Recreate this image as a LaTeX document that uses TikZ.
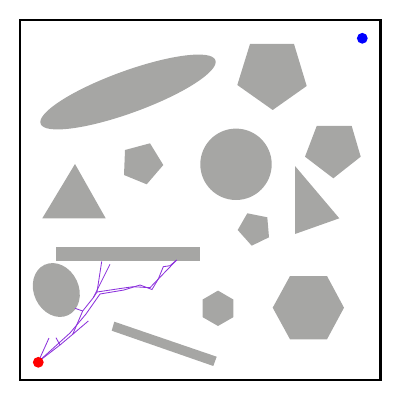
\documentclass[tikz,border=0pt]{standalone}
\usetikzlibrary{calc}
\definecolor{obstgray}{RGB}{166,166,164}
\definecolor{treepurple}{RGB}{140,50,220}
\definecolor{goalblue}{RGB}{0,0,255}
\definecolor{startred}{RGB}{255,0,0}

\begin{document}
\begin{tikzpicture}[x=0.025cm, y=-0.025cm,
  obstacle/.style={fill=obstgray},
  wall/.style={draw=black, line width=1.9pt},
  edge/.style={draw=treepurple, line width=0.6pt},
  marker/.style={circle, inner sep=0pt, minimum size=0.27cm}
]
\useasboundingbox (0,0) rectangle (400,400);
% workspace border
\draw[wall] (20,20) rectangle (380.5,380);

% obstacles
\fill[obstacle, rotate around={20:(128,92)}] (128,92) ellipse (93 and 21);
\fill[obstacle] (250,44) -- (294,44) -- (306.7,86) -- (272.7,110) -- (237.3,85) -- cycle;
\fill[obstacle] (236,164.3) circle (35.7);
\fill[obstacle] (316.7,126) -- (351.7,126) -- (360.7,156.7) -- (333.3,178.3) -- (305,156.7) -- cycle;
\fill[obstacle] (125,150) -- (150,143.3) -- (163.3,165) -- (146.7,184.3) -- (124,175) -- cycle;
\fill[obstacle] (75,164) -- (105.7,218.3) -- (42.3,218.3) -- cycle;
\fill[obstacle] (295,166) -- (339.3,218.3) -- (295,234) -- cycle;
\fill[obstacle] (247.3,213.3) -- (267.3,217.3) -- (269,237.3) -- (251.7,245.7) -- (237.7,230) -- cycle;
\fill[obstacle] (56,247.3) rectangle (200,260.7);
\fill[obstacle, rotate around={25:(56.3,290)}] (56.3,290) ellipse (22.5 and 27.8);
\fill[obstacle] (218,290.6) -- (233.3,299.5) -- (233.3,317.2) -- (218,326) -- (202.7,317.2) -- (202.7,299.5) -- cycle;
\fill[obstacle] (290,276) -- (327,276) -- (344,307.7) -- (327,339.3) -- (290,339.3) -- (272.7,307.7) -- cycle;
\fill[obstacle] (114.3,321.7) -- (216.7,356.7) -- (213.3,366) -- (111.7,330.7) -- cycle;

% tree vertices
\coordinate (root) at (38.3,361.7);
\coordinate (s0) at (49,338);
\coordinate (t1) at (60,345);
\coordinate (s1) at (56,337.7);
\coordinate (t2) at (72.7,334.3);
\coordinate (s2) at (88.3,321);
\coordinate (t3) at (82.7,311);
\coordinate (s3) at (75,308.3);
\coordinate (t4) at (93.3,297.7);
\coordinate (t5) at (97,292);
\coordinate (u1) at (101.7,261.5);
\coordinate (u2) at (110,264.3);
\coordinate (c1) at (121.7,288.3);
\coordinate (c2) at (133.3,286.7);
\coordinate (c3) at (150,287.7);
\coordinate (c4) at (158.3,279);
\coordinate (c5) at (163.3,266.7);
\coordinate (c6) at (170,265.7);
\coordinate (c7) at (176.7,260);
\coordinate (d1) at (70,333);
\coordinate (d2) at (86,314);
\coordinate (d3) at (100,294);
\coordinate (d4) at (124,290);
\coordinate (d5) at (140,285);
\coordinate (d6) at (152,289.5);

% tree edges
\draw[edge] (root) -- (s0);
\draw[edge] (root) -- (t1) -- (t2) -- (t3) -- (t4) -- (t5);
\draw[edge] (t1) -- (s1);
\draw[edge] (t2) -- (s2);
\draw[edge] (t3) -- (s3);
\draw[edge] (root) -- (d1) -- (d2) -- (d3);
\draw[edge] (t5) -- (u1);
\draw[edge] (t4) -- (u2);
\draw[edge] (t5) -- (c1) -- (c2) -- (c3) -- (c4) -- (c5) -- (c6) -- (c7);
\draw[edge] (d3) -- (d4) -- (d5) -- (d6) -- (c4) -- (c7);

% start and goal
\node[marker, fill=goalblue] (goal) at (362.3,38.3) {};
\node[marker, fill=startred] (start) at (38.3,362.3) {};
\end{tikzpicture}
\end{document}
